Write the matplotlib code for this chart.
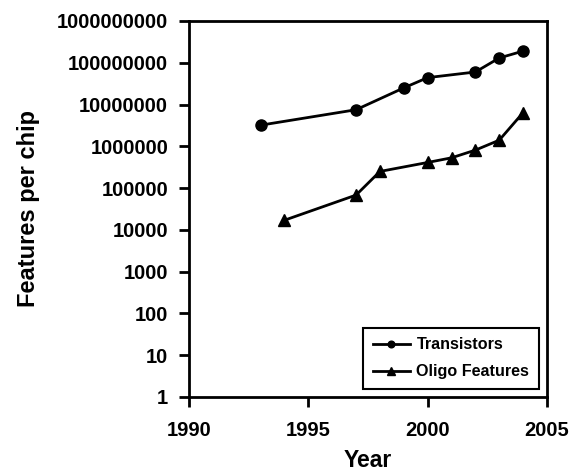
import matplotlib.pyplot as plt
import matplotlib.ticker as mticker

plt.rcParams['font.family'] = ['Liberation Sans', 'DejaVu Sans']
plt.rcParams['font.weight'] = 'bold'

trans_years = [1993, 1997, 1999, 2000, 2002, 2003, 2004]
trans_counts = [3.2e6, 7.5e6, 2.5e7, 4.4e7, 6.0e7, 1.3e8, 1.9e8]
oligo_years = [1994, 1997, 1998, 2000, 2001, 2002, 2003, 2004]
oligo_counts = [1.7e4, 6.8e4, 2.5e5, 4.1e5, 5.3e5, 8.1e5, 1.4e6, 6.4e6]
y_ticks = [10 ** k for k in range(10)]
x_ticks = [1990, 1995, 2000, 2005]

fig = plt.figure(figsize=(5.79, 4.76), dpi=100)
ax = fig.add_axes([0.3264, 0.166, 0.6183, 0.790])

ax.plot(trans_years, trans_counts, color='black', lw=2, marker='o', ms=8,
        label='Transistors')
ax.plot(oligo_years, oligo_counts, color='black', lw=2, marker='^', ms=8.5,
        label='Oligo Features')

ax.set_yscale('log')
ax.set_ylim(1, 1e9)
ax.set_xlim(1990, 2005)
ax.set_yticks(y_ticks)
ax.yaxis.set_major_formatter(mticker.FuncFormatter(lambda v, p: '%d' % round(v)))
ax.yaxis.set_minor_locator(mticker.NullLocator())
ax.set_xticks(x_ticks)

for s in ax.spines.values():
    s.set_linewidth(2)
ax.tick_params(direction='out', length=7, width=2, labelsize=14.5)
ax.tick_params(axis='x', pad=10)
ax.tick_params(axis='y', pad=8)

ax.set_xlabel('Year', fontsize=16.5, fontweight='bold', labelpad=7)
ax.set_ylabel('Features per chip', fontsize=17, fontweight='bold', labelpad=12)

leg = ax.legend(loc='lower right', fontsize=11.6, frameon=True, fancybox=False,
                edgecolor='black', framealpha=1, markerscale=0.6,
                handlelength=2.3, labelspacing=0.75, borderpad=0.6,
                handletextpad=0.4, borderaxespad=0.5)
leg.get_frame().set_linewidth(1.5)
for t in leg.get_texts():
    t.set_fontweight('bold')

fig.savefig('out.png', dpi=100)
